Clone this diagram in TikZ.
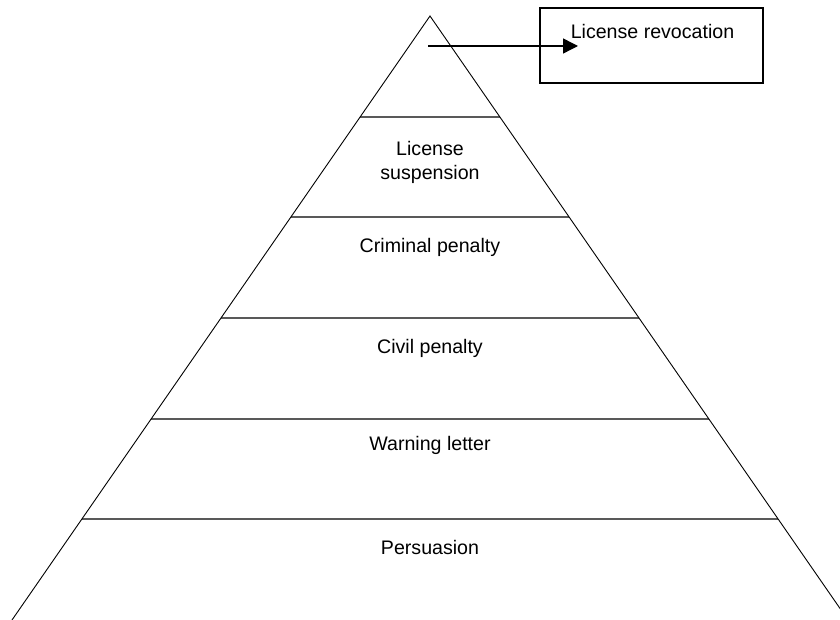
\documentclass[tikz,border=0pt]{standalone}
\usepackage{fontspec}
\setmainfont{Liberation Sans}
\usetikzlibrary{arrows.meta,calc}
\begin{document}
\begin{tikzpicture}[x=1pt,y=-1pt,
  lbl/.style={font=\fontsize{19.6}{24}\selectfont, align=center, inner sep=0pt},
  level/.style={draw=black!65, line width=2.2pt},
  edge/.style={draw=black, line width=0.9pt},
  revbox/.style={draw=black, line width=1.4pt, minimum width=223pt, minimum height=75pt, inner sep=0pt},
  arr/.style={draw=black, line width=1.4pt, -{Triangle[length=15pt,width=15pt]}}]
\useasboundingbox (0,0) rectangle (840,620);
\begin{scope}
\clip (0,0) rectangle (840,620);
\coordinate (apex) at (430,16);
\coordinate (bl) at (12,620);
\coordinate (br) at (848,620);
\foreach \i in {1,...,5} {
  \coordinate (l\i) at ($(apex)!\i/6!(bl)$);
  \coordinate (r\i) at ($(apex)!\i/6!(br)$);
  \draw[level] (l\i) -- (r\i);
}
\draw[edge] (bl) -- (apex) -- (br);
\end{scope}
\node[revbox] (box) at (651.5,45.5) {};
\node[lbl] (rev) at (652.5,31) {License revocation};
\coordinate (astart) at (428,46);
\coordinate (aend) at (578,46);
\draw[arr] (astart) -- (aend);
\node[lbl] (susp) at (430,162) {License\\suspension};
\node[lbl] (crim) at (430,247) {Criminal penalty};
\node[lbl] (civ) at (430,348) {Civil penalty};
\node[lbl] (warn) at (430,445) {Warning letter};
\node[lbl] (pers) at (430,547) {Persuasion};
\end{tikzpicture}
\end{document}
